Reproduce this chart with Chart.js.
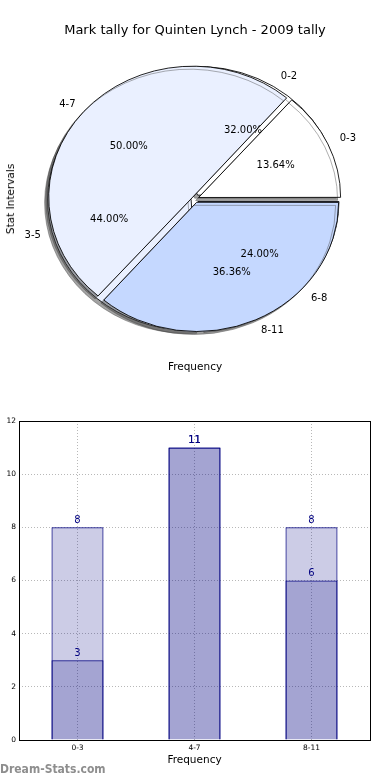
<!DOCTYPE html>
<html><head><meta charset="utf-8">
<script src="https://cdn.jsdelivr.net/npm/chart.js@4/dist/chart.umd.min.js"></script>
<style>
html,body{margin:0;padding:0;background:#fff;}
#wrap{position:relative;width:390px;height:780px;overflow:hidden;font-family:"DejaVu Sans",sans-serif;}
canvas{position:absolute;left:0;}
.t{position:absolute;white-space:nowrap;color:#000;}
</style></head><body>
<div id="wrap">
<canvas id="pieB" width="390" height="398" style="top:0"></canvas>
<canvas id="pieA" width="390" height="398" style="top:0"></canvas>
<canvas id="bar" width="390" height="380" style="top:400px"></canvas>
<div class="t" id="title" style="left:0;width:390px;text-align:center;top:22px;font-size:13px;line-height:16px;"></div>
<div class="t" id="pieX" style="left:0;width:390px;text-align:center;top:359px;font-size:10.5px;line-height:14px;"></div>
<div class="t" id="pieY" style="left:9.5px;top:198.5px;font-size:10.5px;line-height:12px;transform:translate(-50%,-50%) rotate(-90deg);"></div>
<div class="t" id="wm" style="left:0;top:762px;font-family:'DejaVu Sans Condensed','DejaVu Sans',sans-serif;font-weight:bold;font-size:12px;line-height:14px;color:#8e8e8e;"></div>
</div>
<script>
// ---- data ----
const chartTitle = 'Mark tally for Quinten Lynch - 2009 tally';
const pieXLabel = 'Frequency';
const pieYLabel = 'Stat Intervals';
const barXLabel = 'Frequency';
const watermark = 'Dream-Stats.com';
const categoriesA = ['0-3', '4-7', '8-11'];
const valuesA = [3, 11, 8];
const categoriesB = ['0-2', '3-5', '6-8'];
const valuesB = [8, 11, 6];
const barCategories = ['0-3', '4-7', '8-11'];
const yMin = 0, yMax = 12, yStep = 2;

// ---- styles ----
const pieColors = ['#ffffff', '#eaf0ff', '#c5d8ff'];
const explodeA = [16, 12, 16];
const explodeB = [20, 16, 16];
const K = 0.91; // vertical squash of the pie axes
const FONT = '"DejaVu Sans", sans-serif';

document.getElementById('title').textContent = chartTitle;
document.getElementById('pieX').textContent = pieXLabel;
document.getElementById('pieY').textContent = pieYLabel;
document.getElementById('wm').textContent = watermark;

const ellipsePlugin = {
  id: 'ellipse',
  beforeDatasetsDraw(chart) {
    const ctx = chart.ctx, a = chart.chartArea;
    const cx = (a.left + a.right) / 2, cy = (a.top + a.bottom) / 2;
    ctx.save();
    ctx.translate(cx, cy); ctx.scale(1, -K); ctx.translate(-cx, -cy);
    ctx.shadowColor = 'rgba(70,70,70,0.5)';
    ctx.shadowOffsetX = -3; ctx.shadowOffsetY = 3; ctx.shadowBlur = 0;
  },
  afterDatasetsDraw(chart) { chart.ctx.restore(); }
};

function drawPieLabels(chart, srcChart, values, labels) {
  const ctx = chart.ctx;
  const meta = srcChart.getDatasetMeta(0);
  const total = values.reduce((s, v) => s + v, 0);
  ctx.save();
  ctx.fillStyle = '#000';
  ctx.font = '10px ' + FONT;
  ctx.textBaseline = 'middle';
  meta.data.forEach((arc, i) => {
    const p = arc.getProps(['x', 'y', 'startAngle', 'endAngle', 'outerRadius'], true);
    const mid = (p.startAngle + p.endAngle) / 2;
    const c = Math.cos(mid), s = Math.sin(mid);
    const off = (arc.options.offset || 0) / 4;
    const R = p.outerRadius;
    const bx = p.x + c * off, by = p.y - K * s * off;
    ctx.textAlign = c > 0 ? 'left' : 'right';
    ctx.fillText(labels[i], bx + 1.1 * R * c, by - K * 1.1 * R * s);
    ctx.textAlign = 'center';
    ctx.fillText((values[i] / total * 100).toFixed(2) + '%', bx + 0.6 * R * c, by - K * 0.6 * R * s);
  });
  ctx.restore();
}

function pieConfig(values, labels, offsets, plugins) {
  return {
    type: 'pie',
    data: { labels: labels, datasets: [{
      data: values, backgroundColor: pieColors, borderColor: '#000', borderWidth: 0.9,
      offset: offsets, hoverOffset: 0, radius: 141, clip: false
    }]},
    options: {
      responsive: false, animation: false, events: [], rotation: 90,
      layout: { padding: 0 },
      plugins: { legend: { display: false }, tooltip: { enabled: false } }
    },
    plugins: plugins
  };
}

const pieB = new Chart(document.getElementById('pieB'), pieConfig(valuesB, categoriesB, explodeB, [ellipsePlugin]));
const pieA = new Chart(document.getElementById('pieA'), pieConfig(valuesA, categoriesA, explodeA, [ellipsePlugin, {
  id: 'pieLabels',
  afterDraw(chart) {
    drawPieLabels(chart, chart, valuesA, categoriesA);
    drawPieLabels(chart, pieB, valuesB, categoriesB);
  }
}]));

// ---- bar chart ----
const barStyle = { backgroundColor: 'rgba(0,0,128,0.2)', borderColor: '#000080', borderWidth: 1,
  categoryPercentage: 1, barPercentage: 0.445 };
const gridStyle = { color: '#b8b8b8', drawTicks: false, lineWidth: 1 };

new Chart(document.getElementById('bar'), {
  type: 'bar',
  data: { labels: barCategories, datasets: [
    Object.assign({ data: valuesA }, barStyle),
    Object.assign({ data: valuesB }, barStyle)
  ]},
  options: {
    responsive: false, animation: false, events: [],
    layout: { padding: { left: 0, right: 20, top: 21, bottom: 0 } },
    plugins: { legend: { display: false }, tooltip: { enabled: false } },
    scales: {
      x: {
        stacked: true,
        grid: Object.assign({ offset: false }, gridStyle),
        border: { display: false, dash: [1, 2] },
        ticks: { font: { family: FONT, size: 7.5 }, color: '#000', padding: 4 },
        title: { display: true, text: barXLabel, font: { family: FONT, size: 10.5 }, color: '#000', padding: { top: 0, bottom: 13.5 } },
        afterFit(s) { s.height = 40; }
      },
      y: {
        stacked: false, min: yMin, max: yMax,
        grid: gridStyle,
        border: { display: false, dash: [1, 2] },
        ticks: { stepSize: yStep, font: { family: FONT, size: 7.5 }, color: '#000', padding: 3 },
        afterFit(s) { s.width = 19; }
      }
    }
  },
  plugins: [{
    id: 'frameAndLabels',
    afterDatasetsDraw(chart) {
      const ctx = chart.ctx;
      ctx.save();
      ctx.fillStyle = '#000080';
      ctx.font = '10px ' + FONT;
      ctx.textAlign = 'center';
      ctx.textBaseline = 'bottom';
      chart.data.datasets.forEach((ds, di) => {
        chart.getDatasetMeta(di).data.forEach((el, i) => {
          ctx.fillText(String(ds.data[i]), el.x, el.y - 2);
        });
      });
      ctx.restore();
    },
    afterDraw(chart) {
      const ctx = chart.ctx, a = chart.chartArea;
      ctx.save();
      ctx.strokeStyle = '#000';
      ctx.lineWidth = 1;
      ctx.strokeRect(Math.round(a.left) + 0.5, Math.round(a.top) + 0.5,
        Math.round(a.right - a.left), Math.round(a.bottom - a.top));
      ctx.restore();
    }
  }]
});
</script>
</body></html>
